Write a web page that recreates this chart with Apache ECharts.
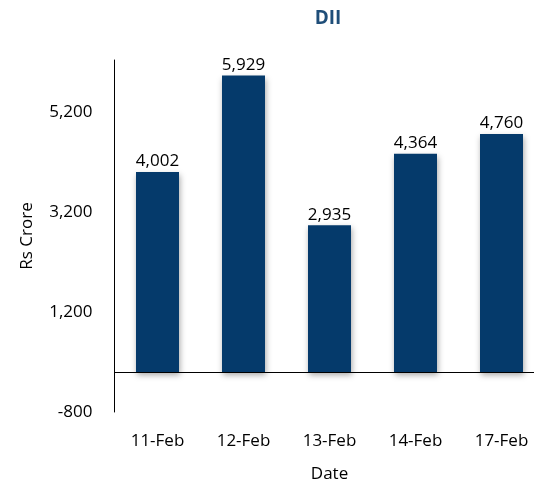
<!DOCTYPE html>
<html>
<head>
<meta charset="utf-8">
<script src="https://cdn.jsdelivr.net/npm/echarts@6/dist/echarts.min.js"></script>
<style>
  html, body { margin: 0; padding: 0; background: #fff; }
  #chart { width: 534px; height: 484px; }
</style>
</head>
<body>
<div id="chart"></div>
<script>
// DII net flows by trading date (Rs Crore)
const dates = ['11-Feb', '12-Feb', '13-Feb', '14-Feb', '17-Feb'];
const diiValues = [4002, 5929, 2935, 4364, 4760];
const yTicks = [-800, 1200, 3200, 5200];

const FONT = '"Open Sans", "Liberation Sans", sans-serif';
const chart = echarts.init(document.getElementById('chart'));

chart.setOption({
  animation: false,
  backgroundColor: '#ffffff',
  title: {
    text: 'DII',
    left: 323,
    top: 4,
    textAlign: 'center',
    textStyle: { fontFamily: FONT, fontSize: 19, fontWeight: 'bold', color: '#1F4E79' }
  },
  // plot area runs past the right edge of the canvas
  grid: {
    left: 114.5, top: 60, width: 430, height: 352,
    containLabel: false,
    outerBoundsMode: 'none'
  },
  xAxis: {
    type: 'category',
    data: dates,
    name: 'Date',
    nameLocation: 'middle',
    nameGap: 54,
    nameTextStyle: { fontFamily: FONT, fontSize: 17, color: '#000' },
    axisLine: { show: false, onZero: false },
    axisTick: { show: false },
    axisLabel: { margin: 21, fontFamily: FONT, fontSize: 17, color: '#000' },
    splitLine: { show: false }
  },
  yAxis: {
    type: 'value',
    min: yTicks[0],
    max: 6240,
    interval: yTicks[1] - yTicks[0],
    name: 'Rs Crore',
    nameLocation: 'middle',
    nameGap: 79,
    nameTextStyle: { fontFamily: FONT, fontSize: 17, color: '#000' },
    axisLine: { show: true, lineStyle: { color: '#000', width: 1 } },
    axisTick: { show: false },
    splitLine: { show: false },
    axisLabel: {
      margin: 22,
      fontFamily: FONT,
      fontSize: 17,
      color: '#000',
      showMaxLabel: false,
      formatter: v => yTicks.includes(v) ? v.toLocaleString('en-US') : ''
    }
  },
  series: [{
    type: 'bar',
    data: diiValues,
    barWidth: '50%',
    itemStyle: {
      color: '#053A6B',
      shadowColor: 'rgba(0,0,0,0.35)',
      shadowBlur: 6,
      shadowOffsetX: 1,
      shadowOffsetY: 3
    },
    label: {
      show: true,
      position: 'top',
      distance: 2,
      fontFamily: FONT,
      fontSize: 17,
      color: '#000',
      formatter: p => p.value.toLocaleString('en-US')
    },
    markLine: {
      silent: true,
      symbol: 'none',
      label: { show: false },
      lineStyle: { color: '#000', width: 1, type: 'solid' },
      data: [{ yAxis: 0 }]
    }
  }]
});
</script>
</body>
</html>
